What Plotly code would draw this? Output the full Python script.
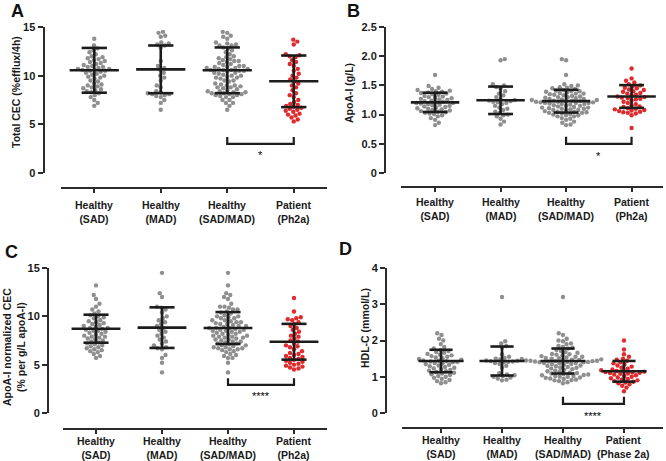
import plotly.graph_objects as go

# ---------------- DATA ----------------
CATS_ABC = ["Healthy<br>(SAD)", "Healthy<br>(MAD)", "Healthy<br>(SAD/MAD)", "Patient<br>(Ph2a)"]
CATS_D = ["Healthy<br>(SAD)", "Healthy<br>(MAD)", "Healthy<br>(SAD/MAD)", "Patient<br>(Phase 2a)"]

# Panel A: Total CEC (%efflux/4h)
A_SAD = [13.8, 13.1, 12.8, 12.6, 12.4, 12.2, 12.0, 11.9, 11.8, 11.7, 11.6, 11.5, 11.4, 11.3, 11.2, 11.1,
         11.0, 10.9, 10.9, 10.8, 10.7, 10.7, 10.6, 10.6, 10.5, 10.5, 10.4, 10.3, 10.2, 10.1, 10.0, 9.9,
         9.8, 9.7, 9.5, 9.4, 9.2, 9.1, 9.0, 8.9, 8.8, 8.7, 8.6, 8.5, 8.4, 8.3, 8.2, 8.0, 7.8, 7.5, 7.2, 6.9]
A_MAD = [14.5, 14.4, 14.1, 14.0, 13.4, 13.3, 13.2, 13.1, 12.9, 11.5, 11.0, 10.8, 10.6, 10.3, 10.0,
         9.8, 9.5, 9.0, 8.8, 8.4, 8.3, 8.2, 8.1, 8.1, 8.0, 7.9, 7.8, 7.5, 7.2, 6.5]
A_PAT = [13.7, 13.5, 13.2, 12.2, 12.1, 12.0, 11.9, 11.6, 11.4, 11.2, 11.0, 10.7, 10.5, 10.2, 10.0,
         9.8, 9.6, 9.4, 9.2, 9.0, 8.8, 8.5, 8.2, 8.0, 7.8, 7.5, 7.3, 7.1, 7.0, 6.9, 6.8, 6.7, 6.6,
         6.5, 6.4, 6.3, 6.1, 6.0, 5.9, 5.7, 5.5, 5.3]
A_MEAN = [10.55, 10.65, 10.55, 9.42]
A_SD = [2.3, 2.45, 2.35, 2.65]

# Panel B: ApoA-I (g/L)
B_SAD = [1.68, 1.49, 1.46, 1.44, 1.42, 1.41, 1.40, 1.39, 1.38, 1.37, 1.36, 1.35, 1.34, 1.32, 1.31,
         1.30, 1.29, 1.28, 1.27, 1.26, 1.25, 1.24, 1.23, 1.22, 1.21, 1.20, 1.20, 1.19, 1.18, 1.17,
         1.16, 1.15, 1.14, 1.13, 1.12, 1.11, 1.10, 1.09, 1.08, 1.07, 1.06, 1.05, 1.04, 1.03, 1.02,
         1.01, 0.99, 0.97, 0.94, 0.91, 0.86, 0.82]
B_MAD = [1.95, 1.93, 1.52, 1.50, 1.47, 1.45, 1.40, 1.36, 1.33, 1.30, 1.27, 1.25, 1.24, 1.23, 1.22,
         1.21, 1.20, 1.18, 1.15, 1.12, 1.10, 1.08, 1.05, 1.03, 1.00, 0.99, 0.97, 0.93, 0.88, 0.83]
B_PAT = [1.79, 1.62, 1.58, 1.55, 1.52, 1.50, 1.48, 1.46, 1.45, 1.43, 1.42, 1.40, 1.39, 1.37, 1.36,
         1.34, 1.33, 1.31, 1.30, 1.29, 1.28, 1.27, 1.26, 1.24, 1.22, 1.20, 1.18, 1.16, 1.14, 1.13,
         1.11, 1.10, 1.09, 1.08, 1.07, 1.06, 1.05, 1.04, 1.03, 1.02, 0.99, 0.77]
B_MEAN = [1.21, 1.245, 1.23, 1.31]
B_SD = [0.165, 0.235, 0.195, 0.195]

# Panel C: ApoA-I normalized CEC (% per g/L apoA-I)
C_SAD = [13.2, 12.2, 11.8, 11.3, 11.0, 10.7, 10.5, 10.3, 10.1, 10.0, 9.9, 9.8, 9.6, 9.5, 9.4, 9.3,
         9.2, 9.1, 9.0, 8.9, 8.8, 8.8, 8.7, 8.6, 8.5, 8.5, 8.4, 8.3, 8.2, 8.1, 8.0, 7.9, 7.9, 7.8,
         7.7, 7.6, 7.5, 7.4, 7.3, 7.2, 7.1, 7.0, 6.9, 6.8, 6.7, 6.6, 6.5, 6.4, 6.3, 6.1, 5.9, 5.7]
C_MAD = [14.5, 12.4, 12.0, 11.0, 10.9, 10.7, 10.4, 10.0, 9.8, 9.6, 9.4, 9.2, 9.0, 8.8, 8.6, 8.4,
         8.2, 8.0, 7.8, 7.6, 7.4, 7.2, 7.0, 6.8, 6.7, 6.6, 6.0, 5.7, 5.2, 4.2]
C_PAT = [11.9, 10.5, 9.9, 9.8, 9.7, 9.6, 9.4, 9.2, 9.0, 8.8, 8.6, 8.4, 8.2, 8.0, 7.9, 7.7, 7.5,
         7.4, 7.2, 7.0, 6.9, 6.8, 6.6, 6.4, 6.2, 6.1, 6.0, 5.9, 5.8, 5.7, 5.6, 5.5, 5.4, 5.3, 5.2,
         5.1, 5.0, 4.9, 4.8, 4.7, 4.6, 4.5]
C_MEAN = [8.72, 8.83, 8.79, 7.37]
C_SD = [1.45, 2.1, 1.65, 1.85]

# Panel D: HDL-C (mmol/L)
D_SAD = [2.20, 2.15, 2.05, 2.00, 1.90, 1.82, 1.78, 1.74, 1.71, 1.68, 1.66, 1.63, 1.61, 1.59, 1.57,
         1.55, 1.53, 1.51, 1.49, 1.47, 1.45, 1.44, 1.43, 1.42, 1.41, 1.40, 1.38, 1.37, 1.35, 1.33,
         1.31, 1.29, 1.27, 1.25, 1.23, 1.21, 1.19, 1.17, 1.15, 1.13, 1.11, 1.09, 1.07, 1.05, 1.02,
         1.00, 0.97, 0.94, 0.91, 0.88, 0.85, 0.82]
D_MAD = [3.20, 1.98, 1.92, 1.85, 1.80, 1.62, 1.55, 1.52, 1.50, 1.48, 1.46, 1.45, 1.44, 1.43, 1.42,
         1.41, 1.40, 1.38, 1.35, 1.30, 1.25, 1.10, 1.06, 1.04, 1.02, 1.00, 0.98, 0.95, 0.92, 0.90]
D_PAT = [2.00, 1.75, 1.62, 1.55, 1.50, 1.47, 1.44, 1.40, 1.37, 1.34, 1.31, 1.28, 1.25, 1.22, 1.20,
         1.18, 1.16, 1.15, 1.14, 1.13, 1.12, 1.11, 1.10, 1.09, 1.08, 1.06, 1.04, 1.02, 1.00, 0.98,
         0.96, 0.94, 0.92, 0.90, 0.88, 0.86, 0.84, 0.82, 0.79, 0.75, 0.70, 0.60]
D_MEAN = [1.434, 1.434, 1.434, 1.15]
D_SD = [0.31, 0.40, 0.345, 0.285]

Y_TITLES = ["Total CEC (%efflux/4h)", "ApoA-I (g/L)",
            "ApoA-I normalized CEC<br>(% per g/L apoA-I)", "HDL-C (mmol/L)"]
LETTERS = ["A", "B", "C", "D"]
Y_TICKVALS = [[0, 5, 10, 15], [0, 0.5, 1.0, 1.5, 2.0, 2.5], [0, 5, 10, 15], [0, 1, 2, 3, 4]]
Y_TICKTEXT = [["0", "5", "10", "15"], ["0", "0.5", "1.0", "1.5", "2.0", "2.5"],
              ["0", "5", "10", "15"], ["0", "1", "2", "3", "4"]]
SIG_LABELS = ["*", "*", "****", "****"]

# ---------------- LAYOUT / STYLE ----------------
W, H = 666, 461
def px(x): return x / W
def py(y): return 1 - y / H

GRAY = "#8f8f8f"
RED = "#e02b2e"
INK = "#1c1c1c"
AX = "#2b2b2b"
FONT = "Liberation Sans, Arial, sans-serif"
DOT = 4.4

panels = [
    dict(data=(A_SAD, A_MAD, A_PAT), mean=A_MEAN, sd=A_SD, cats=CATS_ABC, ymax=15,
         yax_x=43.5, ytop=27, ybot=173, xl=61, xr=327, xline_y=188, rng=(-0.5, 3.5),
         br_base=3.0, br_top=3.7, star_y=2.2, lab_off=24,
         letter_xy=(17, 0, "top"), title_xy=(16, 92)),
    dict(data=(B_SAD, B_MAD, B_PAT), mean=B_MEAN, sd=B_SD, cats=CATS_ABC, ymax=2.5,
         yax_x=385, ytop=27, ybot=173, xl=401, xr=663, xline_y=187, rng=(-0.52, 3.48),
         br_base=0.5, br_top=0.62, star_y=0.35, lab_off=22,
         letter_xy=(353, 0, "top"), title_xy=(349, 93)),
    dict(data=(C_SAD, C_MAD, C_PAT), mean=C_MEAN, sd=C_SD, cats=CATS_ABC, ymax=15,
         yax_x=48, ytop=268, ybot=413, xl=63, xr=327, xline_y=429, rng=(-0.5, 3.5),
         br_base=2.9, br_top=3.6, star_y=2.1, lab_off=19,
         letter_xy=(11, 252, "middle"), title_xy=(14, 347)),
    dict(data=(D_SAD, D_MAD, D_PAT), mean=D_MEAN, sd=D_SD, cats=CATS_D, ymax=4,
         yax_x=386, ytop=268, ybot=413, xl=402, xr=663, xline_y=428, rng=(-0.64, 3.64),
         br_base=0.25, br_top=0.45, star_y=0.0, lab_off=19,
         letter_xy=(345, 249, "middle"), title_xy=(365, 328)),
]

def swarm(vals, center, ppu_y, ppu_x, d=DOT):
    """Greedy beeswarm in pixel space: each point keeps its y and is pushed sideways
    to the nearest free slot, alternating sides."""
    placed = []
    xs, ys = [], []
    side = 1
    for v in sorted(vals):
        y = v * ppu_y
        near = [(a, b) for (a, b) in placed if abs(b - y) < d]
        k = 0
        best = None
        while best is None:
            cands = (0.0,) if k == 0 else (side * k * 0.25, -side * k * 0.25)
            for x in cands:
                if all((x - a) ** 2 + (y - b) ** 2 >= d * d for a, b in near):
                    best = x
                    break
            k += 1
        if best != 0:
            side = -side
        placed.append((best, y))
        xs.append(center + best / ppu_x)
        ys.append(v)
    return xs, ys

fig = go.Figure()
layout = dict(width=W, height=H, margin=dict(l=0, r=0, t=0, b=0, autoexpand=False),
              paper_bgcolor="white", plot_bgcolor="rgba(0,0,0,0)", showlegend=False,
              font=dict(family=FONT, color="#1a1a1a"))
annotations = []

for i, p in enumerate(panels):
    n = "" if i == 0 else str(i + 1)
    xa, ya = "x" + n, "y" + n
    sad, mad, pat = p["data"]
    groups = [sad, mad, sad + mad, pat]
    colors = [GRAY, GRAY, GRAY, RED]
    ppu_y = (p["ybot"] - p["ytop"]) / p["ymax"]
    ppu_x = (p["xr"] - p["xl"]) / (p["rng"][1] - p["rng"][0])

    for g, (vals, col) in enumerate(zip(groups, colors)):
        xs, ys = swarm(vals, g, ppu_y, ppu_x)
        fig.add_trace(go.Scatter(x=xs, y=ys, mode="markers", xaxis=xa, yaxis=ya,
                                 marker=dict(size=DOT, color=col, line=dict(width=0)),
                                 hoverinfo="y"))

    # mean +/- SD bars
    bx, by = [], []
    hw, cw = 0.37, 0.19
    for g, (m, s) in enumerate(zip(p["mean"], p["sd"])):
        bx += [g - hw, g + hw, None, g, g, None, g - cw, g + cw, None, g - cw, g + cw, None]
        by += [m, m, None, m - s, m + s, None, m + s, m + s, None, m - s, m - s, None]
    fig.add_trace(go.Scatter(x=bx, y=by, mode="lines", xaxis=xa, yaxis=ya,
                             line=dict(color=INK, width=2.6), hoverinfo="skip"))

    # significance bracket between group 3 and 4
    fig.add_trace(go.Scatter(x=[2, 2, 3, 3], y=[p["br_top"], p["br_base"], p["br_base"], p["br_top"]],
                             mode="lines", xaxis=xa, yaxis=ya,
                             line=dict(color=INK, width=2.2), hoverinfo="skip"))
    annotations.append(dict(x=2.5, y=p["star_y"], xref=xa, yref=ya, text=SIG_LABELS[i],
                            showarrow=False, yshift=-3, font=dict(size=11, color="#000")))

    # category labels (under the detached x axis line)
    for g, lab in enumerate(p["cats"]):
        annotations.append(dict(x=g, y=py(p["xline_y"] + p["lab_off"]), xref=xa, yref="paper",
                                text="<b>%s</b>" % lab, showarrow=False,
                                xanchor="center", yanchor="middle",
                                font=dict(size=10.5, color="#1a1a1a")))

    layout["xaxis" + n] = dict(domain=[px(p["xl"]), px(p["xr"])], range=list(p["rng"]),
                               anchor="free", position=py(p["xline_y"]),
                               tickvals=[0, 1, 2, 3], showticklabels=False,
                               showline=True, linecolor=AX, linewidth=2,
                               ticks="outside", ticklen=4, tickwidth=1.6, tickcolor=AX,
                               showgrid=False, zeroline=False, fixedrange=True)
    layout["yaxis" + n] = dict(domain=[py(p["ybot"]), py(p["ytop"])], range=[0, p["ymax"]],
                               anchor="free", position=px(p["yax_x"]),
                               tickvals=Y_TICKVALS[i], ticktext=Y_TICKTEXT[i],
                               showline=True, linecolor=AX, linewidth=2,
                               ticks="outside", ticklen=5, tickwidth=1.6, tickcolor=AX,
                               showgrid=False, zeroline=False, fixedrange=True,
                               tickfont=dict(family=FONT, size=11, color="#1a1a1a", weight="bold"))

    lx, ly, lanchor = p["letter_xy"]
    annotations.append(dict(x=px(lx), y=py(ly), xref="paper", yref="paper", text="<b>%s</b>" % LETTERS[i],
                            showarrow=False, xanchor="center", yanchor=lanchor, borderpad=0,
                            font=dict(size=18, color="#111")))
    tx, ty = p["title_xy"]
    annotations.append(dict(x=px(tx), y=py(ty), xref="paper", yref="paper", text="<b>%s</b>" % Y_TITLES[i],
                            showarrow=False, textangle=-90, xanchor="center", yanchor="middle",
                            font=dict(size=10.5, color="#1a1a1a")))

layout["annotations"] = annotations
fig.update_layout(**layout)
fig.write_html("out.html", config={"displayModeBar": False},
               post_script="document.body.style.margin='0';document.body.style.overflow='hidden';")
